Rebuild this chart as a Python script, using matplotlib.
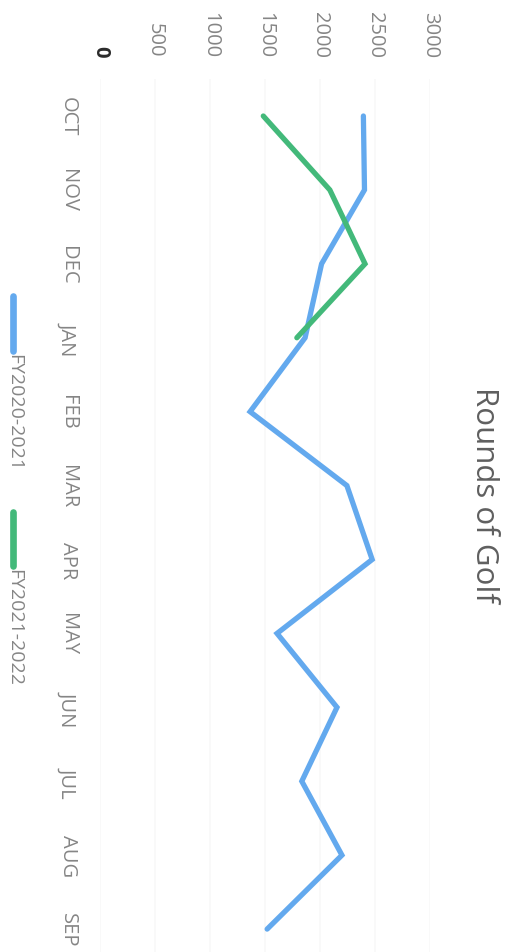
import matplotlib
matplotlib.use("Agg")
import matplotlib.pyplot as plt
from matplotlib.lines import Line2D

plt.rcParams['font.family'] = ['Open Sans', 'DejaVu Sans']

# Monthly rounds of golf per fiscal year (Oct–Sep)
months = ["OCT", "NOV", "DEC", "JAN", "FEB", "MAR", "APR", "MAY", "JUN", "JUL", "AUG", "SEP"]
fy2020_2021 = [2395, 2405, 2015, 1865, 1365, 2245, 2475, 1610, 2155, 1835, 2200, 1520]
fy2021_2022 = [1485, 2090, 2410, 1790]
series_names = ["FY2020-2021", "FY2021-2022"]
value_ticks = [0, 500, 1000, 1500, 2000, 2500, 3000]

blue = "#63A9EE"
green = "#43B97A"
label_grey = "#858585"

fig = plt.figure(figsize=(5.10, 9.53), dpi=100)
ax = fig.add_axes([0.196, 0.0, 0.647, 0.916])

# Chart laid out sideways: values run left-to-right, months top-to-bottom
ax.plot(fy2020_2021, range(len(fy2020_2021)), color=blue, lw=3.8,
        solid_capstyle='round', solid_joinstyle='miter')
ax.plot(fy2021_2022, range(len(fy2021_2022)), color=green, lw=3.8,
        solid_capstyle='round', solid_joinstyle='miter')

ax.set_xlim(0, 3000)
ax.set_ylim(11.31, -0.5)
ax.set_xticks(value_ticks)
ax.set_xticklabels([str(v) for v in value_ticks])
ax.set_yticks(range(len(months)))
ax.set_yticklabels(months)

ax.xaxis.tick_top()
ax.tick_params(axis='x', length=0, pad=16, labelrotation=-90,
               labelsize=14.5, labelcolor=label_grey)
ax.tick_params(axis='y', length=0, pad=16, labelrotation=-90,
               labelsize=14.5, labelcolor=label_grey)
for lab in ax.get_yticklabels():
    lab.set_va('center')
for lab in ax.get_xticklabels():
    lab.set_ha('center')
    lab.set_va('bottom')
zero_label = ax.get_xticklabels()[0]
zero_label.set_color('#2b2b2b')
zero_label.set_fontweight('bold')

ax.grid(axis='x', color='#f8f8f8', lw=1.2)
ax.grid(axis='y', visible=False)
for s in ax.spines.values():
    s.set_visible(False)

# Title on the right edge, reading downward
fig.text(0.950, 1 - 495 / 953, "Rounds of Golf", rotation=-90,
         ha='center', va='center', fontsize=22.5, color='#5f5f5f')

# Legend along the left edge
legend_items = [(series_names[0], blue, 297, 352), (series_names[1], green, 513, 567)]
for name, color, y0, y1 in legend_items:
    fig.add_artist(Line2D([13 / 510, 13 / 510], [1 - y0 / 953, 1 - y1 / 953],
                          transform=fig.transFigure, color=color, lw=4.8,
                          solid_capstyle='round'))
    fig.text(14 / 510, 1 - (y1 + 2) / 953, name, rotation=-90,
             ha='center', va='top', fontsize=14, color=label_grey)

fig.savefig("out.png", dpi=100, facecolor='white')
